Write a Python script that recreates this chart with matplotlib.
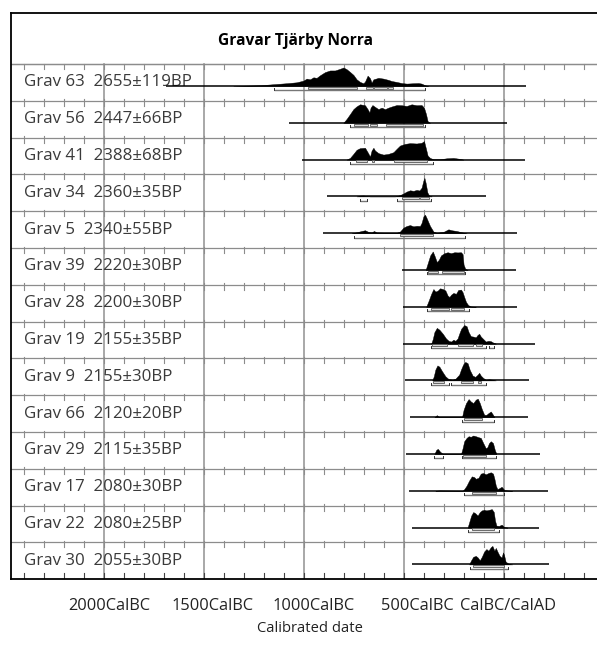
import matplotlib
matplotlib.use("Agg")
import matplotlib.pyplot as plt
from matplotlib.patches import Rectangle

# ---------------- data ----------------
labels = ["Grav 63  2655±119BP", "Grav 56  2447±66BP", "Grav 41  2388±68BP",
          "Grav 34  2360±35BP", "Grav 5  2340±55BP", "Grav 39  2220±30BP",
          "Grav 28  2200±30BP", "Grav 19  2155±35BP", "Grav 9  2155±30BP",
          "Grav 66  2120±20BP", "Grav 29  2115±35BP", "Grav 17  2080±30BP",
          "Grav 22  2080±25BP", "Grav 30  2055±30BP"]

g63_years = [-1353,-1220,-1137,-1087,-1037,-1003,-987,-970,-953,-937,-920,-895,-870,-845,-820,-803,-787,-770,-753,-737,-720,-703,-695,-682,-670,-662,-653,-628,-603,-578,-562,-537,-512,-487,-453,-428,-412,-395,-378]
g63_dens = [0,0.04,0.11,0.15,0.2,0.29,0.4,0.36,0.47,0.44,0.58,0.75,0.84,0.84,0.93,1,0.91,0.76,0.6,0.36,0.22,0.15,0.24,0.56,0.42,0.18,0.36,0.44,0.4,0.33,0.27,0.22,0.16,0.13,0.15,0.16,0.13,0.04,0]
g56_years = [-803,-787,-770,-753,-737,-720,-695,-682,-673,-667,-658,-645,-628,-612,-595,-578,-562,-537,-512,-487,-462,-437,-412,-400,-390,-382,-370]
g56_dens = [0,0.21,0.47,0.74,0.89,1,0.95,0.74,0.56,0.82,0.96,0.86,0.74,0.82,0.74,0.82,0.88,0.96,0.95,0.91,1,0.95,0.96,0.82,0.47,0.09,0]
g41_years = [-787,-770,-753,-737,-720,-695,-682,-670,-662,-653,-645,-628,-603,-578,-553,-537,-520,-495,-470,-437,-412,-400,-390,-382,-370,-353,-320,-287,-253,-220,-203]
g41_dens = [0,0.09,0.31,0.53,0.62,0.64,0.4,0.16,0.49,0.64,0.49,0.35,0.27,0.31,0.4,0.58,0.76,0.85,0.89,0.87,0.91,1,0.58,0.22,0.09,0.02,0.02,0.07,0.09,0.04,0]
g34_years = [-737,-720,-703,-687,-670,-545,-520,-503,-487,-470,-453,-437,-423,-412,-403,-398,-392,-383,-373,-362]
g34_dens = [0,0.04,0.05,0.02,0,0,0.07,0.16,0.26,0.33,0.3,0.35,0.32,0.47,0.86,1,0.74,0.21,0.02,0]
g5_years = [-762,-737,-712,-695,-678,-662,-650,-637,-587,-537,-520,-503,-487,-470,-453,-437,-420,-412,-403,-395,-387,-370,-353,-337,-303,-278,-262,-237,-212,-187]
g5_dens = [0,0.05,0.12,0.16,0.07,0.04,0.12,0.04,0.02,0.02,0.09,0.3,0.39,0.44,0.37,0.4,0.39,0.56,0.91,1,0.82,0.39,0.09,0.02,0.07,0.21,0.16,0.12,0.05,0]
g39_years = [-392,-381,-369,-356,-346,-336,-326,-315,-298,-282,-265,-248,-232,-215,-207,-202,-194,-182]
g39_dens = [0,0.38,0.79,1,0.73,0.43,0.55,0.79,0.91,0.96,0.91,0.96,0.95,0.96,0.86,0.29,0.07,0]
g28_years = [-389,-376,-364,-353,-343,-331,-320,-306,-293,-282,-273,-265,-253,-240,-229,-215,-207,-199,-190,-179,-166,-141]
g28_dens = [0,0.35,0.7,0.96,0.82,0.88,1,0.96,0.88,0.61,0.53,0.65,0.75,0.7,0.91,0.93,0.79,0.53,0.26,0.09,0.02,0]
g19_years = [-364,-356,-348,-336,-323,-306,-290,-277,-265,-253,-243,-232,-224,-214,-199,-187,-177,-166,-154,-141,-132,-124,-116,-104,-91,-78,-66,-55,-41]
g19_dens = [0,0.25,0.62,0.85,0.75,0.53,0.28,0.15,0.11,0.21,0.15,0.28,0.53,0.81,1,0.94,0.62,0.4,0.38,0.34,0.47,0.53,0.38,0.25,0.11,0.15,0.13,0.06,0]
g9_years = [-359,-351,-343,-333,-323,-310,-293,-277,-257,-243,-232,-224,-215,-204,-194,-182,-171,-157,-144,-132,-124,-116,-104,-91,-75,-58,-41]
g9_dens = [0,0.22,0.59,0.81,0.74,0.5,0.22,0.07,0.04,0.09,0.22,0.31,0.59,0.87,1,0.93,0.56,0.26,0.19,0.31,0.41,0.26,0.13,0.04,0.06,0.04,0]
g66_years = [-348,-336,-323,-210,-202,-190,-177,-166,-154,-141,-131,-121,-111,-99,-88,-78,-66,-55,-48]
g66_dens = [0,0.11,0,0,0.4,0.76,0.98,0.85,0.76,0.95,1,0.76,0.44,0.13,0.13,0.22,0.31,0.13,0]
g29_years = [-348,-339,-331,-320,-306,-215,-207,-199,-187,-177,-166,-154,-141,-128,-116,-104,-91,-83,-75,-66,-55,-46,-38]
g29_dens = [0,0.22,0.28,0.13,0,0,0.31,0.69,0.87,0.96,0.93,1,0.96,0.91,0.87,0.59,0.31,0.37,0.59,0.69,0.59,0.22,0]
g17_years = [-343,-323,-207,-199,-187,-174,-161,-149,-141,-128,-116,-104,-91,-78,-66,-55,-48,-41,-33,-22,-12,-5,2,17,41]
g17_dens = [0,0.02,0,0.09,0.28,0.56,0.78,0.74,0.65,0.7,0.93,0.96,0.89,0.96,1,0.93,0.65,0.28,0.09,0.15,0.22,0.13,0.04,0.02,0]
g22_years = [-182,-174,-164,-154,-144,-132,-121,-111,-99,-88,-75,-61,-51,-45,-38,-25,-12,-5,2,17]
g22_dens = [0,0.29,0.65,0.84,0.78,0.65,0.84,0.93,0.96,0.93,0.96,1,0.84,0.38,0.11,0.09,0.16,0.09,0.02,0]
g30_years = [-174,-166,-154,-141,-131,-121,-111,-99,-88,-78,-66,-58,-48,-41,-31,-22,-12,-5,0,8,22,41]
g30_dens = [0,0.19,0.41,0.46,0.37,0.22,0.41,0.7,0.83,0.74,0.93,1,0.74,0.89,0.65,0.46,0.37,0.65,0.52,0.15,0.04,0]

curve_years = [g63_years, g56_years, g41_years, g34_years, g5_years, g39_years, g28_years,
               g19_years, g9_years, g66_years, g29_years, g17_years, g22_years, g30_years]
curve_dens = [g63_dens, g56_dens, g41_dens, g34_dens, g5_dens, g39_dens, g28_dens,
              g19_dens, g9_dens, g66_dens, g29_dens, g17_dens, g22_dens, g30_dens]

baseline_range = [(-1690, 108), (-1073, 13), (-1012, 105), (-883, -92), (-903, 63),
                  (-508, 58), (-505, 63), (-505, 157), (-497, 124), (-469, 119),
                  (-492, 182), (-475, 219), (-459, 174), (-459, 227)]

range68 = [[(-978, -737), (-690, -657), (-650, -587), (-582, -553)],
           [(-750, -678), (-670, -637), (-590, -403)],
           [(-740, -687), (-662, -648), (-550, -387)],
           [(-508, -425), (-420, -375)],
           [(-520, -353)],
           [(-379, -331), (-311, -199)],
           [(-363, -277), (-263, -199)],
           [(-359, -286), (-232, -157), (-141, -108)],
           [(-353, -298), (-214, -154), (-132, -116)],
           [(-199, -108)],
           [(-207, -88)],
           [(-161, -41)],
           [(-161, -50)],
           [(-157, 0)]]

range95 = [[(-1150, -393)],
           [(-770, -393)],
           [(-770, -353)],
           [(-720, -687), (-537, -367)],
           [(-750, -195)],
           [(-383, -195)],
           [(-383, -177)],
           [(-363, -91), (-75, -48)],
           [(-363, -277), (-263, -88)],
           [(-210, -48)],
           [(-351, -306), (-212, -38)],
           [(-202, 2)],
           [(-182, -25)],
           [(-171, 22)]]

grid_years = [-2000, -1500, -1000, -500, 0]
xtick_labels = ["2000CalBC", "1500CalBC", "1000CalBC", "500CalBC", "CalBC/CalAD"]
xtick_label_pos = [-1975, -1460, -950, -435, 20]
minor_tick_years = list(range(-2400, 500, 100))

title = "Gravar Tjärby Norra"
xlabel = "Calibrated date"

# ---------------- layout (pixel based) ----------------
W, H = 597, 645
FONT = ["Open Sans", "DejaVu Sans"]
plt.rcParams["font.family"] = FONT

fig = plt.figure(figsize=(W / 100, H / 100), dpi=100)
left_px, right_px = 11, 604
top_px, bottom_px = 13, 579.2
ax = fig.add_axes([left_px / W, 1 - bottom_px / H, (right_px - left_px) / W, (bottom_px - top_px) / H])
ax.set_xlim(-2465, 500)
ax.set_ylim(bottom_px, top_px)  # y in pixels, pointing down
ax.set_xticks([])
ax.set_yticks([])
for s in ["left", "top", "bottom"]:
    ax.spines[s].set_color("black")
    ax.spines[s].set_linewidth(1.3)
ax.spines["right"].set_visible(False)

first_row = 64.0
n = len(labels)
row_h = (bottom_px - first_row) / n
peak_h = 18.5
grid_col = "#8c8c8c"

# vertical grid
for g in grid_years:
    ax.plot([g, g], [first_row, bottom_px], color="#9a9a9a", lw=1.2, zorder=1)

# row separators + ticks
for i in range(n + 1):
    y = first_row + i * row_h
    if i < n:
        ax.plot([-2465, 500], [y, y], color=grid_col, lw=0.9, zorder=1)
        y0 = y - (1.5 if i > 0 else 0)
        for t in minor_tick_years:
            ax.plot([t, t], [y0, y + 5], color=grid_col, lw=0.8, zorder=1)
    else:
        for t in minor_tick_years:
            ax.plot([t, t], [y - 6, y], color="#444444", lw=0.8, zorder=1)

# rows
for i in range(n):
    top = first_row + i * row_h
    base = top + 22
    ax.text(-2400, top + row_h / 2, labels[i], fontsize=12.2, color="#3a3a3a",
            va="center", ha="left", zorder=2)
    b0, b1 = baseline_range[i]
    ax.plot([b0, b1], [base, base], color="black", lw=1.1, zorder=3, solid_capstyle="butt")
    yy = curve_years[i]
    dd = [base - d * peak_h for d in curve_dens[i]]
    ax.fill_between(yy, dd, [base] * len(yy), color="black", lw=0.3, zorder=4)
    for (a, b) in range68[i]:
        ax.add_patch(Rectangle((a, base + 0.8), b - a, 2.0, facecolor="#d8d8d8",
                               edgecolor="#555555", lw=0.6, zorder=5))
    for (a, b) in range95[i]:
        yb = base + 4.4
        ax.plot([a, b], [yb, yb], color="#777777", lw=1.0, zorder=5, solid_capstyle="butt")
        ax.plot([a, a], [yb - 2, yb], color="#333333", lw=0.7, zorder=5)
        ax.plot([b, b], [yb - 2, yb], color="#333333", lw=0.7, zorder=5)

# title
ax.plot([-2465, 500], [first_row, first_row], color=grid_col, lw=0.9, zorder=1)
fig.text(296 / W, 1 - 41 / H, title, fontsize=11.2, fontweight="bold", ha="center", va="center")

# x labels
for p, lab in zip(xtick_label_pos, xtick_labels):
    ax.text(p, 606, lab, fontsize=11.8, ha="center", va="center", color="#222222", clip_on=False)
ax.text((310 - 504) * 5, 629, xlabel, fontsize=10.6, ha="center", va="center", color="#222222", clip_on=False)

fig.savefig("out.png", dpi=100)
